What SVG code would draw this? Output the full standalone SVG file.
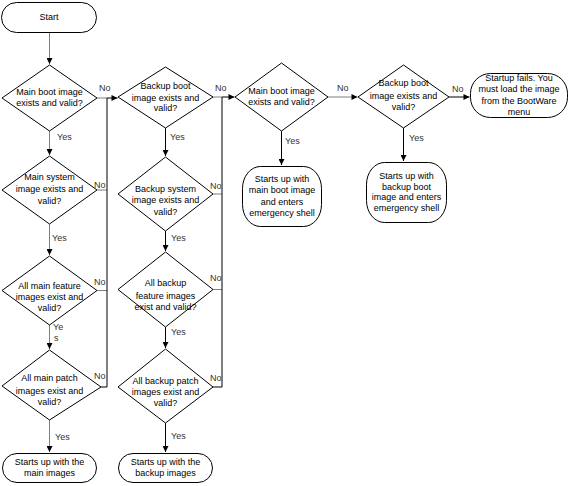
<svg xmlns="http://www.w3.org/2000/svg" width="571" height="486" viewBox="0 0 571 486">
<defs>
<marker id="ah" viewBox="0 0 10 10" refX="10" refY="5" markerWidth="7" markerHeight="6" markerUnits="userSpaceOnUse" orient="auto">
<path d="M0,0 L10,5 L0,10 z" fill="#000"/>
</marker>
<style>
.s{fill:#fff;stroke:#000;stroke-width:1}
.t{font-family:"Liberation Sans",Arial,sans-serif;font-size:9px;fill:#000;text-anchor:middle}
.l{font-family:"Liberation Sans",Arial,sans-serif;font-size:9px;fill:#333}
.g{fill:none;stroke:#7f7f7f;stroke-width:1}
.k{fill:none;stroke:#000;stroke-width:1}
</style>
</defs>
<rect width="571" height="486" fill="#fff"/>
<g id="connectors">
<path class="g" d="M49.5,32 V64" marker-end="url(#ah)"/>
<path class="g" d="M49.5,131 V155" marker-end="url(#ah)"/>
<path class="g" d="M49.5,224 V255" marker-end="url(#ah)"/>
<path class="g" d="M49.5,325 V349" marker-end="url(#ah)"/>
<path class="g" d="M49.5,420 V452" marker-end="url(#ah)"/>
<path class="g" d="M97,98 H107"/>
<path class="k" d="M107,98 H117.5" marker-end="url(#ah)"/>
<path class="g" d="M97,190 H107"/>
<path class="g" d="M97,290.5 H107"/>
<path class="k" d="M101,387 H107"/>
<path class="k" d="M107,98 V387"/>
<path class="k" d="M165.5,128 V156" marker-end="url(#ah)"/>
<path class="k" d="M165.5,231 V251" marker-end="url(#ah)"/>
<path class="k" d="M165.5,327 V348" marker-end="url(#ah)"/>
<path class="k" d="M165.5,423 V452" marker-end="url(#ah)"/>
<path class="g" d="M213,97 H222"/>
<path class="k" d="M222,97 H234.5" marker-end="url(#ah)"/>
<path class="g" d="M213,194 H222"/>
<path class="g" d="M213,289.5 H222"/>
<path class="k" d="M213,387 H222"/>
<path class="k" d="M222,97 V387"/>
<path class="g" d="M328,97 H357.5" marker-end="url(#ah)"/>
<path class="k" d="M281.5,131 V165" marker-end="url(#ah)"/>
<path class="k" d="M449,97 H469.5" marker-end="url(#ah)"/>
<path class="k" d="M403.5,128 V161" marker-end="url(#ah)"/>
<text class="l" x="99" y="91">No</text>
<text class="l" x="57" y="140">Yes</text>
<text class="l" x="94" y="188">No</text>
<text class="l" x="52" y="241">Yes</text>
<text class="l" x="94" y="285">No</text>
<text class="l" x="53" y="330">Ye</text>
<text class="l" x="54" y="341">s</text>
<text class="l" x="94" y="379">No</text>
<text class="l" x="55" y="440">Yes</text>
<text class="l" x="215" y="91">No</text>
<text class="l" x="170" y="140">Yes</text>
<text class="l" x="210" y="189">No</text>
<text class="l" x="171" y="241">Yes</text>
<text class="l" x="210" y="281">No</text>
<text class="l" x="171" y="335">Yes</text>
<text class="l" x="210" y="381">No</text>
<text class="l" x="171" y="439">Yes</text>
<text class="l" x="337" y="91">No</text>
<text class="l" x="285" y="144">Yes</text>
<text class="l" x="452" y="92">No</text>
<text class="l" x="409" y="141">Yes</text>
</g>
<g id="start">
<rect class="s" x="1.5" y="2.5" width="95" height="30" rx="15" ry="15"/>
<text class="t" x="49" y="19.5">Start</text>
</g>
<g id="main-boot">
<polygon class="s" points="49.5,65 97,98 49.5,131 2,98"/>
<text class="t" x="49.5" y="95">Main boot image</text>
<text class="t" x="49.5" y="106">exists and valid?</text>
</g>
<g id="main-system">
<polygon class="s" points="49.5,156 97,190 49.5,224 2,190"/>
<text class="t" x="49.5" y="180">Main system</text>
<text class="t" x="49.5" y="192">image exists and</text>
<text class="t" x="49.5" y="204">valid?</text>
</g>
<g id="main-feature">
<polygon class="s" points="49.5,256 97,290.5 49.5,325 2,290.5"/>
<text class="t" x="49.5" y="289">All main feature</text>
<text class="t" x="49.5" y="300">images exist and</text>
<text class="t" x="49.5" y="311">valid?</text>
</g>
<g id="main-patch">
<polygon class="s" points="49.5,350 101,387 49.5,420 2,386"/>
<text class="t" x="49.5" y="381">All main patch</text>
<text class="t" x="49.5" y="394">images exist and</text>
<text class="t" x="49.5" y="405">valid?</text>
</g>
<g id="main-images">
<rect class="s" x="2.5" y="453.5" width="94" height="29" rx="14.5" ry="14.5"/>
<text class="t" x="49.5" y="465">Starts up with the</text>
<text class="t" x="49.5" y="476">main images</text>
</g>
<g id="backup-boot">
<polygon class="s" points="165.5,67 213,97 165.5,128 118,97"/>
<text class="t" x="165.5" y="89">Backup boot</text>
<text class="t" x="165.5" y="101">image exists and</text>
<text class="t" x="165.5" y="111">valid?</text>
</g>
<g id="backup-system">
<polygon class="s" points="165.5,157 213,194 165.5,231 118,194"/>
<text class="t" x="165.5" y="192">Backup system</text>
<text class="t" x="165.5" y="203">image exists and</text>
<text class="t" x="165.5" y="215">valid?</text>
</g>
<g id="backup-feature">
<polygon class="s" points="165.5,252 213,289.5 165.5,327 118,289.5"/>
<text class="t" x="165.5" y="286">All backup</text>
<text class="t" x="165.5" y="299">feature images</text>
<text class="t" x="165.5" y="310">exist and valid?</text>
</g>
<g id="backup-patch">
<polygon class="s" points="165.5,349 213,387 165.5,423 118,387"/>
<text class="t" x="165.5" y="384">All backup patch</text>
<text class="t" x="165.5" y="395">images exist and</text>
<text class="t" x="165.5" y="406">valid?</text>
</g>
<g id="backup-images">
<rect class="s" x="118.5" y="453.5" width="94" height="29" rx="14.5" ry="14.5"/>
<text class="t" x="165.5" y="465">Starts up with the</text>
<text class="t" x="165.5" y="476">backup images</text>
</g>
<g id="main-boot-2">
<polygon class="s" points="281.5,63 328,97 281.5,131 235,97"/>
<text class="t" x="281.5" y="94">Main boot image</text>
<text class="t" x="281.5" y="105">exists and valid?</text>
</g>
<g id="main-emergency">
<rect class="s" x="242.5" y="166.5" width="79" height="60" rx="18" ry="22"/>
<text class="t" x="282" y="182">Starts up with</text>
<text class="t" x="282" y="193">main boot image</text>
<text class="t" x="282" y="205">and enters</text>
<text class="t" x="282" y="216">emergency shell</text>
</g>
<g id="backup-boot-2">
<polygon class="s" points="403.5,65 449,97 403.5,128 358,97"/>
<text class="t" x="403.5" y="86">Backup boot</text>
<text class="t" x="403.5" y="99">image exists and</text>
<text class="t" x="403.5" y="110">valid?</text>
</g>
<g id="backup-emergency">
<rect class="s" x="366.5" y="162.5" width="80" height="60" rx="18" ry="22"/>
<text class="t" x="406.5" y="179">Starts up with</text>
<text class="t" x="406.5" y="190">backup boot</text>
<text class="t" x="406.5" y="200">image and enters</text>
<text class="t" x="406.5" y="211">emergency shell</text>
</g>
<g id="startup-fails">
<rect class="s" x="470.5" y="73.5" width="97" height="44" rx="20" ry="20"/>
<text class="t" x="519" y="81">Startup fails. You</text>
<text class="t" x="519" y="92">must load the image</text>
<text class="t" x="519" y="104">from the BootWare</text>
<text class="t" x="519" y="115">menu</text>
</g>
</svg>
